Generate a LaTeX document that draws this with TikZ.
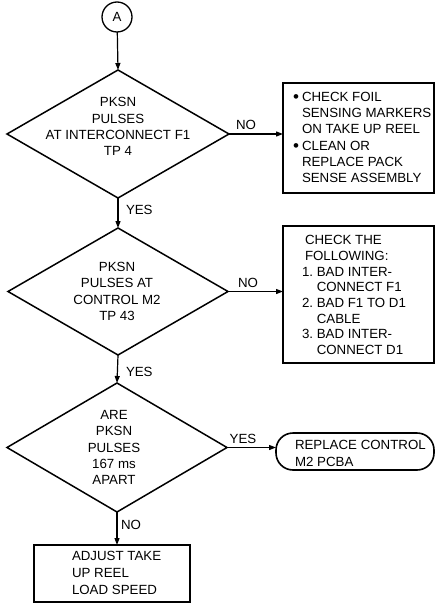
\documentclass[tikz,border=0pt]{standalone}
\usepackage{fontspec}
\setmainfont{Liberation Sans}
\usetikzlibrary{shapes.geometric,arrows.meta}

% hanging bullet for the action list
\newcommand{\hangbullet}{\llap{\raisebox{-1.4pt}{\fontsize{17}{16}\selectfont\textbullet}\hspace{3pt}}}

\begin{document}
\begin{tikzpicture}[x=1pt,y=-1pt,
  every node/.style={font=\fontsize{13.3}{16.2}\selectfont, inner sep=0pt, outer sep=0pt},
  decision/.style={diamond, draw, line width=1.5pt},
  actbox/.style={rectangle, draw, line width=1.8pt},
  endbox/.style={rectangle, rounded corners=17pt, draw, line width=1.6pt},
  connector/.style={circle, draw, line width=1.3pt, minimum size=30pt},
  flow/.style={line width=1.2pt, -{Triangle[length=7pt,width=5pt]}},
  tag/.style={font=\fontsize{13.3}{16.2}\selectfont}
]
\useasboundingbox (0,0) rectangle (435,604);

% entry connector
\node[connector] (A) at (117,17) {A};

% first test
\node[decision, minimum width=222pt, minimum height=128pt] (d1) at (118,134) {};
\node[align=center] (t1) at (118,126.5) {PKSN\\PULSES\\AT INTERCONNECT F1\\TP 4};
\node[actbox, minimum width=151pt, minimum height=110pt] (b1) at (358.5,138) {};
\node[align=left, anchor=west] (tb1) at (302,137.5)
  {\hangbullet CHECK FOIL\\SENSING MARKERS\\ON TAKE UP REEL\\
   \hangbullet CLEAN OR\\REPLACE PACK\\SENSE ASSEMBLY};

% second test
\node[decision, minimum width=220pt, minimum height=127pt] (d2) at (118,291.5) {};
\node[align=center] (t2) at (117,291.5) {PKSN\\PULSES AT\\CONTROL M2\\TP 43};
\node[actbox, minimum width=151pt, minimum height=137pt] (b2) at (358.5,294.5) {};
\node[align=left, anchor=west, font=\fontsize{13.3}{15.7}\selectfont] (tb2) at (302,295)
  {\hspace*{3pt}CHECK THE\\\hspace*{3pt}FOLLOWING:\\1.~BAD INTER-\\\phantom{1.~}CONNECT F1\\
   2.~BAD F1 TO D1\\\phantom{2.~}CABLE\\3.~BAD INTER-\\\phantom{3.~}CONNECT D1};

% third test
\node[decision, minimum width=220pt, minimum height=129pt] (d3) at (117,447.5) {};
\node[align=center] (t3) at (114,447.5) {ARE\\PKSN\\PULSES\\167 ms\\APART};
\node[endbox, minimum width=158pt, minimum height=37pt] (rb) at (355,451.5) {};
\node[align=left, anchor=west, font=\fontsize{13.3}{17}\selectfont] (trb) at (295,453)
  {REPLACE CONTROL\\M2 PCBA};
\node[actbox, minimum width=156pt, minimum height=57pt] (b3) at (112,573.5) {};
\node[align=left, anchor=west, font=\fontsize{13.3}{17}\selectfont] (tb3) at (72,573)
  {ADJUST TAKE\\UP REEL\\LOAD SPEED};

% connectors
\draw[flow] (A) -- (d1.north);
\draw[flow] (d1.east) -- (d1.east -| b1.west);
\draw[flow] (d1.south) -- (d2.north);
\draw[flow] (d2.east) -- (d2.east -| b2.west);
\draw[flow] (d2.south) -- (d3.north);
\draw[flow] (d3.east) -- (d3.east -| rb.west);
\draw[flow] (d3.south) -- (d3.south |- b3.north);

% branch labels
\node[tag] (no1) at (246,125) {NO};
\node[tag, anchor=west] (yes1) at (126,210) {YES};
\node[tag] (no2) at (248,283) {NO};
\node[tag, anchor=west] (yes2) at (126,372) {YES};
\node[tag] (yes3) at (243,439) {YES};
\node[tag, anchor=west] (no3) at (121,525) {NO};
\end{tikzpicture}
\end{document}
